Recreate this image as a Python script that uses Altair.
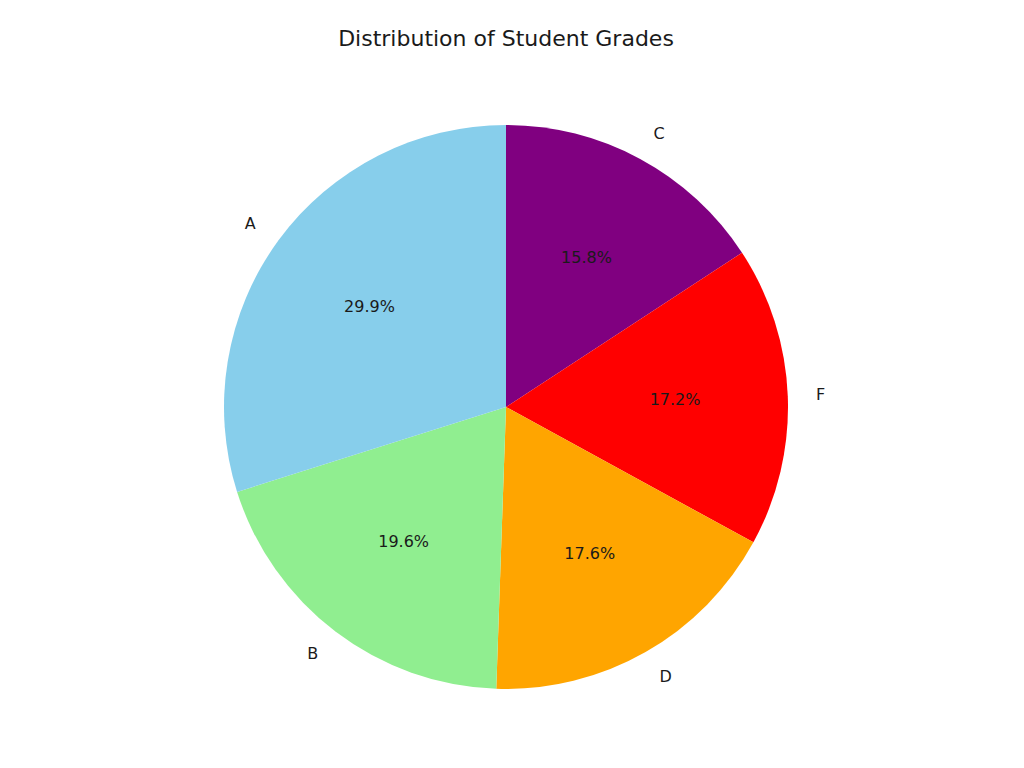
import altair as alt
import pandas as pd

grades = ["C", "F", "D", "B", "A"]
shares = [15.8, 17.2, 17.6, 19.6, 29.9]
colors = ["#800080", "#FF0000", "#FFA500", "#90EE90", "#87CEEB"]
order_idx = [0, 1, 2, 3, 4]
sides = ["right", "right", "right", "left", "left"]
title_text = "Distribution of Student Grades"

df = pd.DataFrame({"grade": grades, "share": shares, "idx": order_idx, "side": sides})

CX, CY, R = 498, 399, 282
FONT = "DejaVu Sans"

base = alt.Chart(df).transform_calculate(
    pct="format(datum.share, '.1f') + '%'"
).encode(
    theta=alt.Theta("share:Q", stack=True),
    order=alt.Order("idx:Q"),
    x=alt.value(CX),
    y=alt.value(CY),
)

arcs = base.mark_arc(outerRadius=R, stroke=None).encode(
    color=alt.Color("grade:N", scale=alt.Scale(domain=grades, range=colors), legend=None)
)

pcts = base.mark_text(radius=R * 0.6, font=FONT, fontSize=16, color="#1a1a1a").encode(
    text="pct:N"
)

# outer labels: compute mid angles then split by side for alignment
lab_base = alt.Chart(df).transform_window(
    cum="sum(share)", sort=[alt.SortField("idx")], frame=[None, 0]
).transform_joinaggregate(
    total="sum(share)"
).transform_calculate(
    ang="2 * PI * (datum.cum - datum.share / 2) / datum.total"
)

def side_layer(side, align):
    return lab_base.transform_filter(alt.datum.side == side).mark_text(
        radius=R * 1.1, font=FONT, fontSize=16, color="#1a1a1a", align=align, baseline="middle"
    ).encode(
        theta=alt.Theta("ang:Q", scale=None),
        x=alt.value(CX),
        y=alt.value(CY),
        text="grade:N",
    )

labels_r = side_layer("right", "left")
labels_l = side_layer("left", "right")

title_df = pd.DataFrame({"t": [title_text]})
title = alt.Chart(title_df).mark_text(
    font=FONT, fontSize=22, color="#1a1a1a", baseline="middle", align="center"
).encode(x=alt.value(CX), y=alt.value(31), text="t:N")

chart = alt.layer(arcs, labels_r, labels_l, pcts, title).properties(
    width=1008, height=752, autosize=alt.AutoSizeParams(type="none"), padding=0
).configure_view(stroke=None)

chart.save("out.html", embed_options={"renderer": "svg", "actions": False})
